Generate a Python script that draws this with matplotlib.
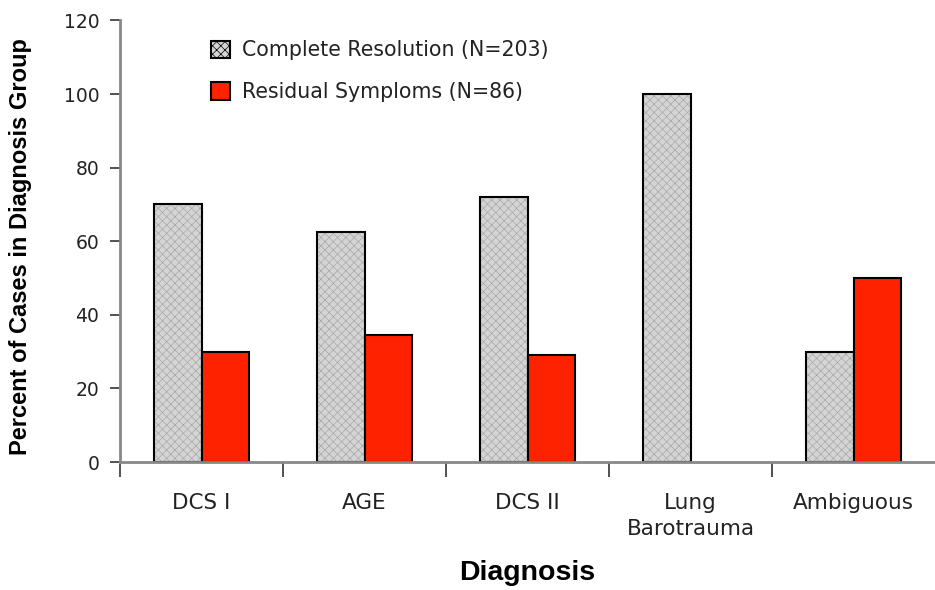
import matplotlib
matplotlib.use("Agg")
import matplotlib.pyplot as plt
import numpy as np
from matplotlib.patches import Patch

plt.rcParams['font.family'] = ['DejaVu Sans']

categories = ["DCS I", "AGE", "DCS II", "Lung\nBarotrauma", "Ambiguous"]
complete_resolution = [70, 62.5, 72, 100, 30]
residual_symptoms = [30, 34.5, 29, 0, 50]
series_labels = ["Complete Resolution (N=203)", "Residual Symploms (N=86)"]
y_ticks = [0, 20, 40, 60, 80, 100, 120]

gray_fill = "#d4d4d4"
hatch_col = "#a8a8a8"
red_fill = "#ff2200"
text_col = "#222222"

fig = plt.figure(figsize=(9.35, 5.9), dpi=100)
ax = fig.add_axes([120 / 935, 1 - 462 / 590, 815 / 935, (462 - 20.4) / 590])

x = np.arange(len(categories)) + 0.5
w = 0.29

plt.rcParams['hatch.linewidth'] = 0.5
# hatched gray fill, then outlines on top
ax.bar(x - w / 2, complete_resolution, w, color=gray_fill, hatch="xxxx",
       edgecolor=hatch_col, linewidth=0, zorder=2)
ax.bar(x - w / 2, complete_resolution, w, facecolor="none",
       edgecolor="black", linewidth=1.5, zorder=3)
red_vals = np.array(residual_symptoms, dtype=float)
mask = red_vals > 0
ax.bar(x[mask] + w / 2, red_vals[mask], w, color=red_fill,
       edgecolor="black", linewidth=1.5, zorder=3)

ax.set_xlim(0, len(categories))
ax.set_ylim(0, 120)
ax.set_yticks(y_ticks)
ax.set_yticklabels([str(t) for t in y_ticks], fontsize=13.5, color=text_col)

# category boundaries carry the x ticks; labels sit at the centres
ax.set_xticks(np.arange(len(categories)))
ax.set_xticklabels([])
ax.set_xticks(x, minor=True)
ax.set_xticklabels(categories, minor=True, fontsize=15.5, color=text_col,
                   linespacing=1.4)
ax.tick_params(axis="x", which="major", direction="out", length=11,
               width=1.2, color="#333333")
ax.tick_params(axis="x", which="minor", length=0, pad=22)
ax.tick_params(axis="y", direction="out", length=7, width=1.2,
               color="#333333", pad=8)

for side in ("top", "right"):
    ax.spines[side].set_visible(False)
for side in ("left", "bottom"):
    ax.spines[side].set_color("#888888")
    ax.spines[side].set_linewidth(2)
ax.spines["bottom"].set_zorder(4)

ax.set_ylabel("Percent of Cases in Diagnosis Group", fontsize=17,
              fontweight="bold", family="Liberation Sans")
ax.yaxis.set_label_coords(-0.108, 0.487)
ax.set_xlabel("Diagnosis", fontsize=20.5, fontweight="bold",
              family="Liberation Sans", labelpad=15)

handles = [Patch(facecolor=gray_fill, edgecolor="black", hatch="xxxx",
                 linewidth=1.5),
           Patch(facecolor=red_fill, edgecolor="black", linewidth=1.5)]
fig.legend(handles, series_labels, loc="upper left",
           bbox_to_anchor=(192 / 935, 1 - 22 / 590), frameon=False,
           fontsize=14.8, handlelength=0.95, handleheight=0.95,
           handletextpad=0.6, labelspacing=1.05, labelcolor=text_col)

fig.savefig("out.png", dpi=100)
